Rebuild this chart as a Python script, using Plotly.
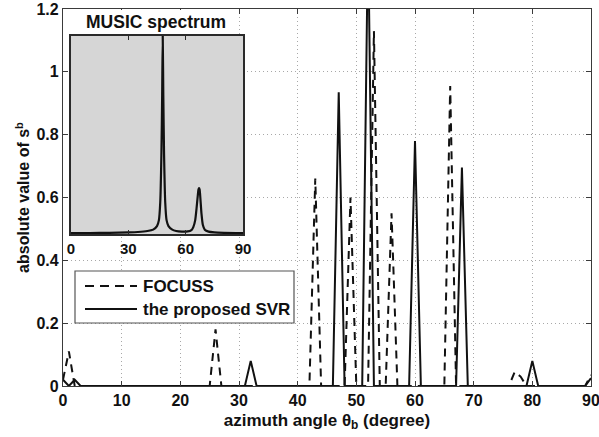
import plotly.graph_objects as go

# Azimuth grid (degrees) for the sparse reconstructions
angles = list(range(0, 91))

# |s^b| recovered by the proposed SVR method, one value per degree
svr = [
    0.02, 0, 0.02, 0, 0, 0, 0, 0, 0, 0,          # 0-9
    0, 0, 0, 0, 0, 0, 0, 0, 0, 0,                # 10-19
    0, 0, 0, 0, 0, 0, 0, 0, 0, 0,                # 20-29
    0, 0, 0.08, 0, 0, 0, 0, 0, 0, 0,             # 30-39
    0, 0, 0, 0, 0, 0, 0, 0.935, 0, 0,            # 40-49
    0, 0, 1.45, 0, 0, 0, 0, 0, 0, 0,             # 50-59
    0.78, 0, 0, 0, 0, 0, 0, 0, 0.695, 0,         # 60-69
    0, 0, 0, 0, 0, 0, 0, 0, 0, 0,                # 70-79
    0.08, 0, 0, 0, 0, 0, 0, 0, 0, 0,             # 80-89
    0.025,                                       # 90
]

# |s^b| recovered by FOCUSS, one value per degree
focuss = [
    0.02, 0.11, 0, 0, 0, 0, 0, 0, 0, 0,          # 0-9
    0, 0, 0, 0, 0, 0, 0, 0, 0, 0,                # 10-19
    0, 0, 0, 0, 0, 0, 0.18, 0, 0, 0,             # 20-29
    0, 0, 0, 0, 0, 0, 0, 0, 0, 0,                # 30-39
    0, 0, 0, 0.66, 0, 0, 0, 0, 0, 0.60,          # 40-49
    0, 0, 0, 1.13, 0, 0, 0.55, 0, 0, 0,          # 50-59
    0, 0, 0, 0, 0, 0, 0.955, 0, 0, 0,            # 60-69
    0, 0, 0, 0, 0, 0, 0, 0.045, 0.03, 0,         # 70-79
    0, 0, 0, 0, 0, 0, 0, 0, 0, 0,                # 80-89
    0.035,                                       # 90
]

# MUSIC pseudo-spectrum (normalised) for the inset
music_angle = [0, 10, 20, 30, 35, 40, 43, 45, 46, 46.7, 47.3, 47.7, 48,
               48.3, 48.7, 49.3, 50, 51, 53, 55, 58, 61, 63, 64, 65, 65.7,
               66.3, 66.7, 67, 67.3, 67.7, 68.3, 69, 70, 72, 75, 80, 90]
music_level = [0.005, 0.005, 0.006, 0.008, 0.01, 0.015, 0.022, 0.04, 0.07,
               0.16, 0.4, 0.7, 1.0, 0.7, 0.4, 0.16, 0.07, 0.04, 0.022, 0.015,
               0.012, 0.013, 0.02, 0.035, 0.07, 0.13, 0.19, 0.225, 0.232,
               0.225, 0.18, 0.1, 0.045, 0.022, 0.012, 0.008, 0.006, 0.005]

x_ticks = list(range(0, 91, 10))
y_ticks = [0, 0.2, 0.4, 0.6, 0.8, 1.0, 1.2]
y_tick_text = ["0", "0.2", "0.4", "0.6", "0.8", "1", "1.2"]
inset_ticks = [0, 30, 60, 90]
inset_x_span = [0, 90]
inset_y_span = [0, 1.0]

# Figure geometry (pixels)
FIG_W, FIG_H = 599, 437
M_L, M_R, M_T, M_B = 63, 8, 9, 51
PLOT_W = FIG_W - M_L - M_R
PLOT_H = FIG_H - M_T - M_B


def px_x(px):
    return (px - M_L) / PLOT_W


def px_y(py):
    return (FIG_H - M_B - py) / PLOT_H


FONT = "Liberation Sans, Arial, Helvetica, sans-serif"
INK = "#111111"
AXIS_COL = "#3a3a3a"
GRID_COL = "#a8a8a8"
INSET_BG = "#d6d6d6"

fig = go.Figure()

fig.add_trace(go.Scatter(
    x=angles, y=focuss, mode="lines", name="FOCUSS", showlegend=False,
    line=dict(color=INK, width=2, dash="8px,6px"),
))
fig.add_trace(go.Scatter(
    x=angles, y=svr, mode="lines", name="the proposed SVR", showlegend=False,
    line=dict(color=INK, width=2),
))

# Grey panel of the inset, drawn on the inset axes so it hides the main grid
fig.add_trace(go.Scatter(
    x=[inset_x_span[0], inset_x_span[1], inset_x_span[1], inset_x_span[0], inset_x_span[0]],
    y=[inset_y_span[0], inset_y_span[0], inset_y_span[1], inset_y_span[1], inset_y_span[0]],
    mode="lines", fill="toself", fillcolor=INSET_BG,
    line=dict(width=0, color=INSET_BG), hoverinfo="skip", showlegend=False,
    xaxis="x2", yaxis="y2",
))
fig.add_trace(go.Scatter(
    x=music_angle, y=music_level, mode="lines", showlegend=False,
    line=dict(color=INK, width=2.2, shape="spline", smoothing=0.6),
    xaxis="x2", yaxis="y2",
))

axis_common = dict(
    showline=True, mirror="ticks", linecolor=AXIS_COL, linewidth=1.2,
    ticks="inside", ticklen=5, tickcolor=AXIS_COL, tickwidth=1,
    zeroline=False,
)

fig.update_layout(
    width=FIG_W, height=FIG_H,
    margin=dict(l=M_L, r=M_R, t=M_T, b=M_B, autoexpand=False),
    paper_bgcolor="white", plot_bgcolor="white",
    font=dict(family=FONT, color=INK, size=16, weight="bold"),
    xaxis=dict(
        domain=[0, 1], range=[0, 90], tickvals=x_ticks,
        showgrid=True, gridcolor=GRID_COL, griddash="1px,3px", gridwidth=1,
        tickfont=dict(size=16, weight="bold"), ticklabeloverflow="allow",
        title=dict(text="azimuth angle θ<sub>b</sub> (degree)",
                   font=dict(size=17, weight="bold"), standoff=5),
        automargin=False,
        **axis_common,
    ),
    yaxis=dict(
        domain=[0, 1], range=[0, 1.2], tickvals=y_ticks, ticktext=y_tick_text,
        showgrid=True, gridcolor=GRID_COL, griddash="1px,3px", gridwidth=1,
        tickfont=dict(size=16, weight="bold"),
        title=dict(text="absolute value of s<sup>b</sup>",
                   font=dict(size=16, weight="bold"), standoff=2),
        automargin=False,
        **axis_common,
    ),
    xaxis2=dict(
        domain=[px_x(71), px_x(243)], range=inset_x_span, tickvals=inset_ticks,
        anchor="y2", showgrid=False,
        tickfont=dict(size=15, weight="bold"), ticklabeloverflow="allow",
        showline=True, mirror="ticks", linecolor="#2a2a2a", linewidth=1.6,
        ticks="inside", ticklen=4, tickcolor="#2a2a2a", zeroline=False,
    ),
    yaxis2=dict(
        domain=[px_y(234), px_y(36)], range=inset_y_span, anchor="x2",
        showgrid=False, showticklabels=False, ticks="",
        showline=True, mirror=True, linecolor="#2a2a2a", linewidth=1.6,
        zeroline=False,
    ),
)

# Blank band behind the inset title
fig.add_shape(type="rect", xref="paper", yref="paper",
              x0=px_x(64), x1=px_x(237), y0=px_y(34), y1=px_y(10),
              layer="above", fillcolor="white", line=dict(width=0))

fig.add_annotation(text="MUSIC spectrum", xref="paper", yref="paper",
                   x=px_x(156), y=px_y(22), showarrow=False,
                   xanchor="center", yanchor="middle",
                   font=dict(size=17.5, weight="bold", color=INK))

# Legend box
fig.add_shape(type="rect", xref="paper", yref="paper",
              x0=px_x(75), x1=px_x(294), y0=px_y(323), y1=px_y(271),
              layer="above", fillcolor="white",
              line=dict(color="#555555", width=1.2))
legend_rows = [("FOCUSS", "9px,6px", 286), ("the proposed SVR", "solid", 309)]
for label, dash, row_y in legend_rows:
    fig.add_shape(type="line", xref="paper", yref="paper",
                  x0=px_x(85), x1=px_x(137), y0=px_y(row_y), y1=px_y(row_y),
                  layer="above", line=dict(color=INK, width=2.2, dash=dash))
    fig.add_annotation(text=label, xref="paper", yref="paper",
                       x=px_x(141), y=px_y(row_y), showarrow=False,
                       xanchor="left", yanchor="middle",
                       font=dict(size=17, weight="bold", color=INK))

fig.write_html("out.html")
